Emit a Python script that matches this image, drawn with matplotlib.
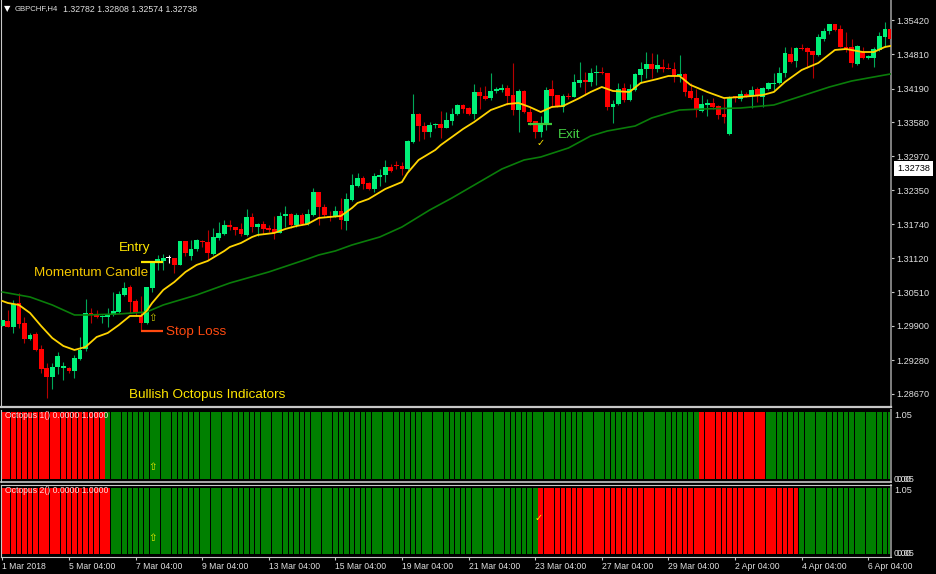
import matplotlib
matplotlib.use('Agg')
import matplotlib.pyplot as plt
import numpy as np

# H4 candles, one entry per bar
open_ = [1.29899,1.29990,1.29881,1.30315,1.29953,1.29664,1.29754,1.29484,1.29140,1.28977,
         1.29158,1.29140,1.29140,1.29086,1.29303,1.29484,1.30134,1.30116,1.30062,1.30062,
         1.30098,1.30152,1.30459,1.30604,1.30351,1.30080,1.29953,1.30586,1.31056,1.31074,
         1.31128,1.31128,1.31002,1.31435,1.31164,1.31291,1.31435,1.31417,1.31200,1.31489,
         1.31562,1.31724,1.31688,1.31652,1.31544,1.31869,1.31688,1.31742,1.31670,1.31652,
         1.31580,1.31887,1.31923,1.31724,1.31905,1.31742,1.31905,1.32321,1.32049,1.31887,
         1.31887,1.31977,1.31796,1.32176,1.32429,1.32574,1.32483,1.32375,1.32592,1.32628,
         1.32772,1.32808,1.32790,1.32736,1.33224,1.33730,1.33513,1.33405,1.33531,1.33549,
         1.33477,1.33604,1.33730,1.33893,1.33838,1.33730,1.34128,1.34055,1.34019,1.34146,
         1.34164,1.34200,1.34073,1.33802,1.34146,1.33766,1.33604,1.33405,1.33531,1.34182,
         1.34073,1.33857,1.34055,1.34037,1.34290,1.34344,1.34308,1.34471,1.34489,1.34471,
         1.33857,1.33911,1.34200,1.33983,1.34164,1.34435,1.34543,1.34633,1.34543,1.34579,
         1.34561,1.34543,1.34417,1.34453,1.34146,1.34019,1.33784,1.33893,1.33929,1.33874,
         1.33730,1.33369,1.34055,1.34001,1.34091,1.34055,1.34182,1.34037,1.34182,1.34272,
         1.34290,1.34471,1.34814,1.34688,1.34923,1.34923,1.34868,1.34796,1.35085,1.35230,
         1.35356,1.35266,1.34941,1.34941,1.34633,1.34850,1.34742,1.34742,1.34887,1.35121,
         1.35266]
high = [1.30008,1.30188,1.30369,1.30495,1.30062,1.29773,1.29791,1.29556,1.29231,1.29231,
        1.29430,1.29249,1.29158,1.29375,1.29700,1.30387,1.30225,1.30188,1.30098,1.30225,
        1.30513,1.30532,1.30694,1.30640,1.30387,1.30441,1.30604,1.31056,1.31182,1.31200,
        1.31182,1.31128,1.31435,1.31435,1.31453,1.31471,1.31453,1.31634,1.31670,1.31778,
        1.31815,1.31815,1.31688,1.31760,1.32014,1.31941,1.31760,1.31796,1.31724,1.31887,
        1.31959,1.32068,1.31941,1.31941,1.31941,1.32014,1.32393,1.32321,1.32104,1.31977,
        1.32068,1.32212,1.32303,1.32646,1.32664,1.32610,1.32501,1.32664,1.32736,1.32899,
        1.32826,1.32881,1.32863,1.33260,1.34091,1.33748,1.33585,1.33585,1.33567,1.33784,
        1.33766,1.33838,1.33911,1.33911,1.33857,1.34272,1.34218,1.34236,1.34471,1.34218,
        1.34272,1.34254,1.34652,1.34182,1.34164,1.33857,1.33604,1.33694,1.34218,1.34344,
        1.34073,1.34091,1.34110,1.34453,1.34670,1.34489,1.34561,1.34615,1.34579,1.34471,
        1.33983,1.34290,1.34290,1.34272,1.34471,1.34670,1.34850,1.34832,1.34814,1.34724,
        1.34652,1.34670,1.34796,1.34471,1.34290,1.34182,1.34073,1.34001,1.34019,1.33893,
        1.34019,1.34055,1.34055,1.34164,1.34128,1.34236,1.34218,1.34218,1.34308,1.34471,
        1.34579,1.34941,1.34941,1.34941,1.34995,1.34941,1.34868,1.35176,1.35284,1.35356,
        1.35356,1.35338,1.35212,1.35085,1.34977,1.34941,1.34796,1.34941,1.35212,1.35392,
        1.35266]
low = [1.29899,1.29881,1.29773,1.29863,1.29592,1.29646,1.29448,1.29050,1.28598,1.28761,
       1.29032,1.28923,1.29050,1.28959,1.29285,1.29448,1.29953,1.30044,1.29953,1.29881,
       1.30080,1.30134,1.30441,1.30134,1.30080,1.29809,1.29935,1.30513,1.30911,1.30911,
       1.31038,1.30857,1.31002,1.31164,1.31092,1.31255,1.31327,1.31092,1.31182,1.31453,
       1.31544,1.31634,1.31544,1.31525,1.31525,1.31598,1.31525,1.31562,1.31598,1.31471,
       1.31580,1.31688,1.31670,1.31688,1.31724,1.31724,1.31887,1.31724,1.31869,1.31796,
       1.31869,1.31652,1.31634,1.32158,1.32411,1.32375,1.32357,1.32321,1.32429,1.32501,
       1.32682,1.32736,1.32628,1.32682,1.33206,1.33242,1.33278,1.33314,1.33477,1.33296,
       1.33477,1.33531,1.33712,1.33748,1.33712,1.33640,1.33820,1.33983,1.33983,1.34110,
       1.34128,1.33893,1.33712,1.33405,1.33748,1.33531,1.33296,1.33314,1.33441,1.33857,
       1.33857,1.33766,1.34001,1.34037,1.34218,1.34073,1.34236,1.34254,1.34453,1.33802,
       1.33567,1.33893,1.33947,1.33965,1.34146,1.34290,1.34381,1.34381,1.34489,1.34489,
       1.34543,1.34308,1.34308,1.34055,1.34001,1.33676,1.33766,1.33694,1.33820,1.33640,
       1.33567,1.33351,1.33947,1.33965,1.34037,1.33838,1.33947,1.33857,1.34164,1.34164,
       1.34272,1.34399,1.34652,1.34579,1.34887,1.34561,1.34381,1.34778,1.35049,1.35176,
       1.35230,1.34941,1.34850,1.34579,1.34615,1.34724,1.34724,1.34579,1.34868,1.34941,
       1.34923]
close = [1.30008,1.29881,1.30297,1.29935,1.29664,1.29736,1.29466,1.29122,1.28977,1.29158,
         1.29357,1.29176,1.29086,1.29321,1.29466,1.30134,1.30098,1.30062,1.30080,1.30116,
         1.30170,1.30477,1.30586,1.30333,1.30134,1.29953,1.30604,1.31038,1.31110,1.31128,
         1.31128,1.31002,1.31435,1.31218,1.31291,1.31453,1.31417,1.31218,1.31507,1.31580,
         1.31724,1.31688,1.31634,1.31562,1.31869,1.31688,1.31742,1.31652,1.31634,1.31580,
         1.31887,1.31923,1.31724,1.31905,1.31742,1.31923,1.32321,1.32049,1.31905,1.31869,
         1.31977,1.31815,1.32194,1.32447,1.32574,1.32465,1.32375,1.32610,1.32628,1.32772,
         1.32700,1.32790,1.32736,1.33242,1.33730,1.33513,1.33405,1.33531,1.33549,1.33477,
         1.33622,1.33730,1.33893,1.33820,1.33730,1.34128,1.34055,1.34001,1.34146,1.34182,
         1.34200,1.34055,1.33802,1.34146,1.33766,1.33585,1.33405,1.33531,1.34164,1.34055,
         1.33874,1.34055,1.34037,1.34308,1.34344,1.34308,1.34471,1.34489,1.34471,1.33857,
         1.33911,1.34182,1.33983,1.34182,1.34453,1.34543,1.34633,1.34543,1.34615,1.34543,
         1.34543,1.34417,1.34453,1.34128,1.34019,1.33802,1.33911,1.33929,1.33857,1.33712,
         1.33676,1.34019,1.34019,1.34091,1.34055,1.34164,1.34055,1.34200,1.34290,1.34290,
         1.34471,1.34832,1.34670,1.34923,1.34905,1.34850,1.34796,1.35121,1.35230,1.35356,
         1.35248,1.34941,1.34905,1.34652,1.34959,1.34742,1.34778,1.34905,1.35139,1.35266,
         1.35085]

# moving averages, read at these bars
fast_bars = [0,1,3,5,7,9,11,13,15,17,19,21,23,25,26,27,29,31,33,35,37,40,41,43,45,46,49,51,53,55,
             57,59,61,63,64,66,69,72,73,75,78,79,81,83,85,88,91,93,95,97,99,101,104,106,108,110,
             113,115,118,120,122,124,127,130,133,137,139,141,144,147,150,152,155,157,159,160]
fast_ma = [1.30351,1.30315,1.30279,1.30134,1.29899,1.29682,1.29538,1.29466,1.29520,1.29700,
           1.29773,1.29917,1.30080,1.30080,1.30170,1.30315,1.30550,1.30694,1.30875,1.31002,
           1.31074,1.31255,1.31327,1.31399,1.31507,1.31544,1.31580,1.31652,1.31706,1.31742,
           1.31851,1.31869,1.31887,1.32032,1.32122,1.32194,1.32375,1.32501,1.32664,1.32899,
           1.33080,1.33170,1.33314,1.33459,1.33585,1.33802,1.33911,1.33929,1.33857,1.33766,
           1.33857,1.33874,1.34019,1.34128,1.34218,1.34146,1.34128,1.34290,1.34362,1.34417,
           1.34417,1.34254,1.34128,1.34019,1.34037,1.34073,1.34128,1.34308,1.34525,1.34652,
           1.34887,1.34905,1.34850,1.34850,1.34941,1.34959]
slow_bars = [0,5,9,13,15,21,26,29,35,41,48,55,57,60,63,68,72,77,81,90,94,97,102,106,109,114,117,
             120,122,126,133,139,144,149,153,156,160]
slow_ma = [1.30513,1.30423,1.30279,1.30098,1.30098,1.30116,1.30152,1.30279,1.30459,1.30676,
           1.30875,1.31110,1.31182,1.31255,1.31363,1.31507,1.31688,1.31995,1.32212,1.32736,
           1.32899,1.32953,1.33116,1.33333,1.33423,1.33513,1.33658,1.33748,1.33802,1.33820,
           1.33838,1.33893,1.34055,1.34218,1.34326,1.34381,1.34453]

price_ticks = [1.35420,1.34810,1.34190,1.33580,1.32970,1.32350,1.31740,1.31120,1.30510,1.29900,1.29280,1.28670]
date_bars = [0,12,24,36,48,60,72,84,96,108,120,132,144,156]
date_labels = ['1 Mar 2018','5 Mar 04:00','7 Mar 04:00','9 Mar 04:00','13 Mar 04:00','15 Mar 04:00',
               '19 Mar 04:00','21 Mar 04:00','23 Mar 04:00','27 Mar 04:00','29 Mar 04:00',
               '2 Apr 04:00','4 Apr 04:00','6 Apr 04:00']

# red stretches of the two Octopus histograms (first bar, last bar)
octopus1_red = [(0,18),(126,137)]
octopus2_red = [(0,19),(97,143)]

W, H = 936, 574
BULL = '#00F078'
BEAR = '#FF0000'
LINE = '#C8C8C8'
TXT = '#E0E0E0'
UI_FONT = 'Liberation Sans'
GLYPH_FONT = 'DejaVu Sans'
LBL_FONT = 'Liberation Sans'
UI_SIZE = 6.6
SMALL_SIZE = 6.25
LBL_SIZE = 9.7

def box(top, bottom):
    return [1/W, 1-bottom/H, 890/W, (bottom-top)/H]

fig = plt.figure(figsize=(W/100, H/100), dpi=100, facecolor='black')

ax = fig.add_axes(box(0, 407), facecolor='black')
ax1 = fig.add_axes(box(410, 481.5), facecolor='black')
ax2 = fig.add_axes(box(485, 556.5), facecolor='black')

xlim = (-0.23, 160.1)
for a in (ax, ax1, ax2):
    a.set_xlim(*xlim)
    for s in a.spines.values():
        s.set_color(LINE)
        s.set_linewidth(0.8)
    a.spines['right'].set_color('#808080')
    a.spines['right'].set_linewidth(1.4)
    a.tick_params(colors=TXT, labelsize=UI_SIZE, length=2.5, width=0.8, color=LINE, pad=1.5)
    a.yaxis.tick_right()
    a.set_xticks([])
ax.spines['top'].set_visible(False)
ax.spines['bottom'].set_linewidth(1.6)
ax1.spines['top'].set_visible(False)
ax1.spines['bottom'].set_linewidth(1.2)

## Candles
n = len(close)
bars = np.arange(n)
o = np.array(open_)
c = np.array(close)
up = c > o
doji = c == o
colors = np.where(doji, '#FFFFFF', np.where(up, BULL, BEAR))
wick_colors = np.where(doji, '#FFFFFF', np.where(up, '#00A858', '#B80000'))

ax.vlines(bars, low, high, colors=list(wick_colors), linewidth=0.8, zorder=2)
body_h = np.maximum(np.abs(c-o), 0.00012)
ax.bar(bars, body_h, bottom=np.minimum(o, c), width=0.86, color=list(colors), linewidth=0, zorder=3)

ax.plot(slow_bars, slow_ma, color='#0A7D0A', linewidth=1.2, zorder=4)
ax.plot(fast_bars, fast_ma, color='#FFD400', linewidth=1.3, zorder=5)

ax.set_ylim(1.28435, 1.35790)
ax.set_yticks(price_ticks)
ax.set_yticklabels(['%.5f' % p for p in price_ticks], family=UI_FONT)

## Chart notes
ax.hlines(1.31056, 25, 29, color='#FFE600', linewidth=1.6, zorder=6)
ax.hlines(1.29809, 25, 29, color='#FF4A10', linewidth=1.6, zorder=6)
ax.hlines(1.33549, 94.7, 99, color='#3CC83C', linewidth=1.6, zorder=6)

ax.text(21, 1.31309, 'Entry', color='#FFE600', family=LBL_FONT, fontsize=LBL_SIZE, va='center')
ax.text(5.7, 1.30857, 'Momentum Candle', color='#F5C800', family=LBL_FONT, fontsize=LBL_SIZE, va='center')
ax.text(29.5, 1.29791, 'Stop Loss', color='#FF4A10', family=LBL_FONT, fontsize=LBL_SIZE, va='center')
ax.text(100, 1.33351, 'Exit', color='#44D044', family=LBL_FONT, fontsize=LBL_SIZE, va='center')
ax.text(22.8, 1.28652, 'Bullish Octopus Indicators', color='#FFE600', family=LBL_FONT, fontsize=LBL_SIZE, va='center')

ax.text(27, 1.30044, '\u21e7', color='#C8C800', family=GLYPH_FONT, fontsize=7.5, ha='center', va='center', zorder=7)
ax.text(96.9, 1.33206, '\u2713', color='#FFE600', family=GLYPH_FONT, fontsize=7, ha='center', va='center', zorder=7)

fig.text(3.5/W, 1-9/H, '\u25bc', color='white', family=GLYPH_FONT, fontsize=6, va='center')
fig.text(15/W, 1-9/H, 'GBPCHF,H4', color=TXT, family=UI_FONT, fontsize=5.6, va='center')
fig.text(63/W, 1-9/H, '1.32782 1.32808 1.32574 1.32738', color=TXT, family=UI_FONT, fontsize=6.35, va='center')

# current price tag
ax.text(1.0067, 1.32738, '1.32738', color='black', family=UI_FONT, fontsize=UI_SIZE, va='center', ha='left',
        transform=ax.get_yaxis_transform(), clip_on=False, zorder=8,
        bbox=dict(facecolor='white', edgecolor='none', pad=2.2))

## Octopus panels
def draw_panel(a, red_runs):
    cols = ['#008000'] * n
    for first, last in red_runs:
        for k in range(first, last+1):
            cols[k] = '#FF0000'
    a.bar(bars, np.ones(n), width=0.86, color=cols, linewidth=0)

draw_panel(ax1, octopus1_red)
draw_panel(ax2, octopus2_red)
ax1.set_ylim(-0.037, 1.03)
ax2.set_ylim(-0.038, 1.045)
ax1.set_yticks([])
ax2.set_yticks([])

for a, name, top_val in ((ax1, 'Octopus 1() 0.0000 1.0000', 0.955), (ax2, 'Octopus 2() 0.0000 1.0000', 0.96)):
    a.text(0.5, top_val, name, color='#FFD8D8', family=UI_FONT, fontsize=SMALL_SIZE, va='center')
    t = a.get_yaxis_transform()
    a.text(1.0035, top_val, '1.05', color=TXT, family=UI_FONT, fontsize=UI_SIZE, va='center', transform=t, clip_on=False)
    a.text(1.0035, 0.0, '0.00', color=TXT, family=UI_FONT, fontsize=UI_SIZE, va='center', transform=t, clip_on=False)
    a.text(1.0065, 0.0, '0.05', color=TXT, family=UI_FONT, fontsize=UI_SIZE, va='center', transform=t, clip_on=False)

ax1.text(27, 0.18, '\u21e7', color='#E8E800', family=GLYPH_FONT, fontsize=7.5, ha='center', va='center')
ax2.text(27, 0.24, '\u21e7', color='#E8E800', family=GLYPH_FONT, fontsize=7.5, ha='center', va='center')
ax2.text(96.7, 0.545, '\u2713', color='#FFE600', family=GLYPH_FONT, fontsize=7, ha='center', va='center')

ax2.set_xticks(date_bars)
ax2.set_xticklabels(date_labels, family=UI_FONT, ha='left', fontsize=SMALL_SIZE)
ax2.tick_params(axis='x', pad=1.5)

fig.savefig('out.png', dpi=100, facecolor='black')
